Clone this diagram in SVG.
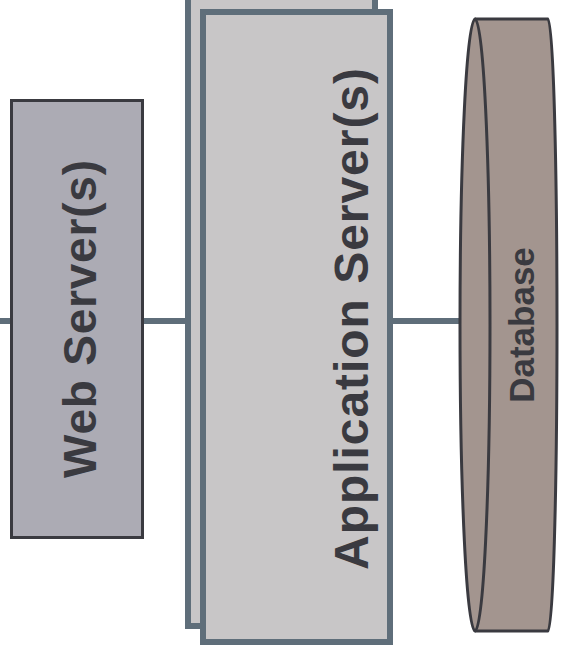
<svg xmlns="http://www.w3.org/2000/svg" width="562" height="659" viewBox="0 0 562 659">
<style>
.lbl{font-family:"Liberation Sans",Arial,sans-serif;font-weight:bold;fill:#3a3a40;text-anchor:middle}
.app{fill:#c8c6c7;stroke:#5f6e7a;stroke-width:6}
.conn{stroke:#5f6e7a;stroke-width:6;fill:none}
</style>
<rect width="562" height="659" fill="#ffffff"/>
<g id="connectors">
<line class="conn" x1="0" y1="321" x2="11" y2="321"/>
<line class="conn" x1="142" y1="321" x2="189" y2="321"/>
<line class="conn" x1="392" y1="321" x2="459" y2="321"/>
</g>
<g id="web-server">
<rect x="11.5" y="100.5" width="131" height="437" fill="#acabb4" stroke="#3a3a40" stroke-width="3"/>
<text class="lbl" transform="translate(96,319) rotate(-90)" font-size="46" textLength="318" lengthAdjust="spacing">Web Server(s)</text>
</g>
<g id="app-server">
<rect class="app" x="188" y="-8" width="187" height="634"/>
<rect class="app" x="203" y="12" width="187" height="630"/>
<text class="lbl" transform="translate(368,319) rotate(-90)" font-size="48" textLength="502" lengthAdjust="spacing">Application Server(s)</text>
</g>
<g id="database">
<path d="M475,19 L548,19 A9,306 0 0 1 548,631 L475,631 A15,306 0 0 1 475,19 Z" fill="#a3958f" stroke="#3a3a40" stroke-width="3" stroke-linejoin="round"/>
<path d="M475,19 A15,306 0 0 1 475,631" fill="none" stroke="#3a3a40" stroke-width="3"/>
<text class="lbl" transform="translate(534,325) rotate(-90)" font-size="35">Database</text>
</g>
</svg>
